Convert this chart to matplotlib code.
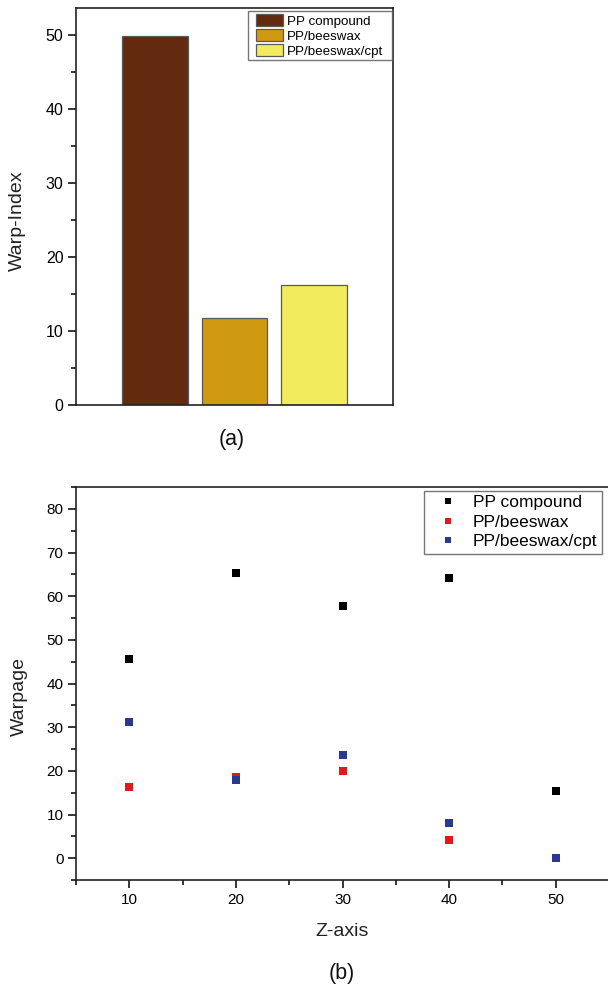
import matplotlib
matplotlib.use("Agg")
import matplotlib.pyplot as plt
from matplotlib.ticker import MultipleLocator
from matplotlib.patches import Rectangle
from matplotlib.container import BarContainer
from matplotlib.legend_handler import HandlerPatch, update_from_first_child

plt.rcParams['font.family'] = ['Liberation Sans', 'DejaVu Sans']

# ---- data (a) ----
bar_labels = ["PP compound", "PP/beeswax", "PP/beeswax/cpt"]
bar_values = [49.8, 11.7, 16.2]
bar_colors = ["#642A10", "#CF9A0F", "#F2EB5E"]

# ---- data (b) ----
z_axis = [10, 20, 30, 40, 50]
warp_pp = [45.6, 65.3, 57.8, 64.2, 15.3]
warp_bw = [16.3, 18.6, 19.9, 4.2, 0.0]
warp_cpt = [31.1, 18.0, 23.7, 8.0, 0.0]
series_labels = ["PP compound", "PP/beeswax", "PP/beeswax/cpt"]
series_colors = ["#000000", "#E8161B", "#2A3990"]

W, H = 608, 990
fig = plt.figure(figsize=(W / 100, H / 100), dpi=100)

def ax_rect(l, t, r, b):
    return [l / W, 1 - b / H, (r - l) / W, (b - t) / H]

OFFSET_PT = 3.6

def shifted_patch(legend, orig_handle, xdescent, ydescent, width, height, fontsize):
    return Rectangle((-xdescent + OFFSET_PT, -ydescent), width - OFFSET_PT, height)

# ---------- panel (a) ----------
ax1 = fig.add_axes(ax_rect(76, 8, 393, 405))
for i, (lab, v, c) in enumerate(zip(bar_labels, bar_values, bar_colors)):
    ax1.bar(i + 1, v, width=0.83, color=c, edgecolor="#5a5a5a", linewidth=0.9, label=lab)
ax1.set_xlim(0, 4)
ax1.set_ylim(0, 53.6)
ax1.set_xticks([])
ax1.yaxis.set_major_locator(MultipleLocator(10))
ax1.yaxis.set_minor_locator(MultipleLocator(5))
ax1.tick_params(axis='y', which='major', direction='out', length=6, width=1.1, labelsize=11.5, pad=3)
ax1.tick_params(axis='y', which='minor', direction='out', length=3.5, width=1.1)
for s in ax1.spines.values():
    s.set_linewidth(1.2)
    s.set_color("#222222")
fig.text(17 / W, 1 - 221 / H, "Warp-Index", fontsize=14, rotation=90,
         ha="center", va="center", color="#222222")
x0 = (248 - 76) / 317
wbb = (392 - 248) / 317
leg1 = ax1.legend(loc="upper left", bbox_to_anchor=(x0, 0.5, wbb, 0.492), mode="expand",
                  borderaxespad=0,
                  fontsize=9.6, frameon=True, fancybox=False, edgecolor="#555555",
                  handlelength=2.4, handleheight=1.05, handletextpad=0.3,
                  labelspacing=0.1, borderpad=0.2,
                  handler_map={BarContainer: HandlerPatch(patch_func=shifted_patch,
                                                          update_func=update_from_first_child)})
leg1.get_frame().set_linewidth(1.0)
fig.text(232 / W, 1 - 439 / H, "(a)", fontsize=15.5, ha="center", va="center", color="#111111")

# ---------- panel (b) ----------
ax2 = fig.add_axes(ax_rect(76, 487, 609, 880))
for ys, lab, c in zip([warp_pp, warp_bw, warp_cpt], series_labels, series_colors):
    ax2.plot(z_axis, ys, linestyle="none", marker="s", markersize=6.2, color=c,
             markeredgewidth=0, label=lab)
ax2.set_xlim(5, 55)
ax2.set_ylim(-5, 85)
ax2.xaxis.set_major_locator(MultipleLocator(10))
ax2.xaxis.set_minor_locator(MultipleLocator(5))
ax2.yaxis.set_minor_locator(MultipleLocator(5))
ax2.set_yticks([0, 10, 20, 30, 40, 50, 60, 70, 80])
ax2.tick_params(which='major', direction='out', length=6, width=1.1, labelsize=11, pad=3)
ax2.tick_params(which='minor', direction='out', length=3.5, width=1.1)
for s in ax2.spines.values():
    s.set_linewidth(1.2)
    s.set_color("#222222")
fig.text(19 / W, 1 - 696 / H, "Warpage", fontsize=14, rotation=90,
         ha="center", va="center", color="#222222")
fig.text(342 / W, 1 - 932 / H, "Z-axis", fontsize=14, ha="center", va="center",
         color="#222222")
leg2 = ax2.legend(loc="upper right", bbox_to_anchor=(0.986, 0.9906), borderaxespad=0,
                  fontsize=12.5, frameon=True, fancybox=False, edgecolor="#555555",
                  markerscale=0.7, handlelength=2.2, handletextpad=0.35,
                  labelspacing=0.25, borderpad=0.25)
leg2.get_frame().set_linewidth(1.0)
fig.text(342 / W, 1 - 973 / H, "(b)", fontsize=15.5, ha="center", va="center", color="#111111")

fig.savefig("out.png", dpi=100)
